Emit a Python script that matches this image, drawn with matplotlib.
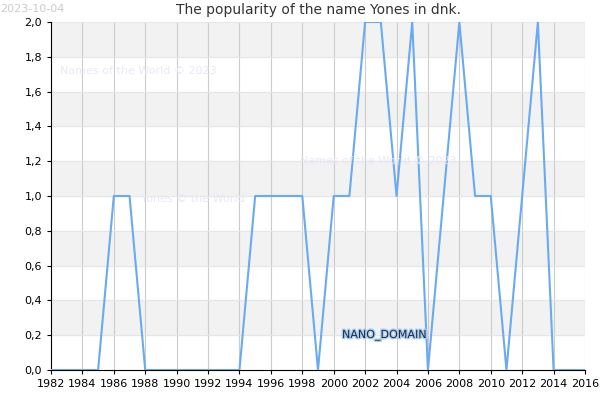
import matplotlib
matplotlib.use("Agg")
import matplotlib.pyplot as plt
import matplotlib.patheffects as pe

years = list(range(1982, 2017))
values = [0,0,0,0,1,1,0,0,0,0,0,0,0,1,1,1,1,0,1,1,2,2,1,2,0,1,2,1,1,0,1,2,0,0,0]
xticks = list(range(1982, 2017, 2))
yticks = [0.0,0.2,0.4,0.6,0.8,1.0,1.2,1.4,1.6,1.8,2.0]

fig = plt.figure(figsize=(6,4), dpi=100)
ax = fig.add_axes([0.085, 0.075, 0.89, 0.87])
for i in range(0, 10, 2):
    ax.axhspan(yticks[i+1], yticks[i+2], color="#f2f2f2", zorder=0)
ax.plot(years, values, color="#6aaaf0", lw=1.5, zorder=3)
ax.set_xlim(1982, 2016); ax.set_ylim(0, 2)
ax.set_xticks(xticks); ax.set_yticks(yticks)
ax.set_yticklabels([f"{v:.1f}".replace(".", ",") for v in yticks])
ax.tick_params(labelsize=8, length=3)
ax.grid(axis="x", color="#cccccc", lw=0.8)
ax.grid(axis="y", color="#e6e6e6", lw=0.8)
ax.set_axisbelow(True)
for s in ax.spines.values(): s.set_visible(False)
ax.spines["bottom"].set_visible(True)
ax.spines["left"].set_visible(True)
ax.set_title("The popularity of the name Yones in dnk.", fontsize=10, color="#333333", pad=6)
fig.text(0.0, 0.99, "2023-10-04", fontsize=8, color="#cccccc", va="top")
for x, y, t in [(0.1, 0.815, "Names of the World © 2023"), (0.5, 0.59, "Names of the World © 2023"), (0.235, 0.495, "Yones © the World")]:
    fig.text(x, y, t, fontsize=8, color="#e8e8f8")
fig.text(0.57, 0.155, "NANO_DOMAIN", fontsize=8, color="#1a2a44",
         path_effects=[pe.withStroke(linewidth=2, foreground="#aaccee")])
fig.savefig("out.png")
